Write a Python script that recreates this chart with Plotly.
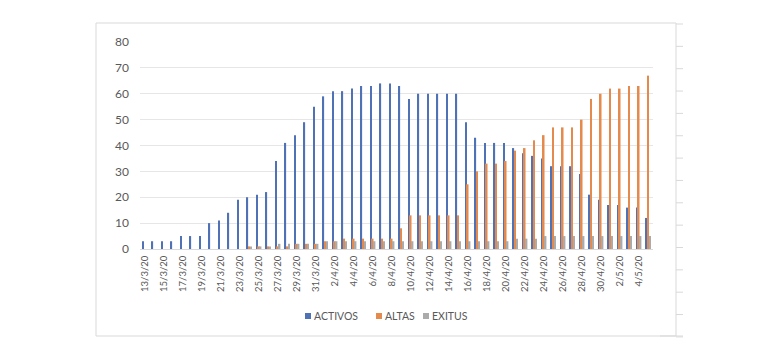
import plotly.graph_objects as go

fechas = [
    "13/3/20", "14/3/20", "15/3/20", "16/3/20", "17/3/20", "18/3/20", "19/3/20", "20/3/20",
    "21/3/20", "22/3/20", "23/3/20", "24/3/20", "25/3/20", "26/3/20", "27/3/20", "28/3/20",
    "29/3/20", "30/3/20", "31/3/20", "1/4/20", "2/4/20", "3/4/20", "4/4/20", "5/4/20",
    "6/4/20", "7/4/20", "8/4/20", "9/4/20", "10/4/20", "11/4/20", "12/4/20", "13/4/20",
    "14/4/20", "15/4/20", "16/4/20", "17/4/20", "18/4/20", "19/4/20", "20/4/20", "21/4/20",
    "22/4/20", "23/4/20", "24/4/20", "25/4/20", "26/4/20", "27/4/20", "28/4/20", "29/4/20",
    "30/4/20", "1/5/20", "2/5/20", "3/5/20", "4/5/20", "5/5/20",
]

activos = [3, 3, 3, 3, 5, 5, 5, 10, 11, 14,
           19, 20, 21, 22, 34, 41, 44, 49, 55, 59,
           61, 61, 62, 63, 63, 64, 64, 63, 58, 60,
           60, 60, 60, 60, 49, 43, 41, 41, 41, 39,
           37, 36, 35, 32, 32, 32, 29, 21, 19, 17,
           17, 16, 16, 12]

altas = [0, 0, 0, 0, 0, 0, 0, 0, 0, 0,
         0, 1, 1, 1, 1, 1, 2, 2, 2, 3,
         3, 4, 4, 4, 4, 4, 4, 8, 13, 13,
         13, 13, 13, 13, 25, 30, 33, 33, 34, 38,
         39, 42, 44, 47, 47, 47, 50, 58, 60, 62,
         62, 63, 63, 67]

exitus = [0, 0, 0, 0, 0, 0, 0, 0, 0, 0,
          0, 1, 1, 1, 2, 2, 2, 2, 2, 3,
          3, 3, 3, 3, 3, 3, 3, 3, 3, 3,
          3, 3, 3, 3, 3, 3, 3, 3, 3, 4,
          4, 4, 5, 5, 5, 5, 5, 5, 5, 5,
          5, 5, 5, 5]

y_ticks = [0, 10, 20, 30, 40, 50, 60, 70, 80]

series_names = ["ACTIVOS", "ALTAS", "EXITUS"]
series_colors = ["#4F71B5", "#E38A4C", "#ABABAB"]

W, H = 770, 353
ML, MR, MT, MB = 140, 117, 42, 104
PW, PH = W - ML - MR, H - MT - MB


def px(x):
    return (x - ML) / PW


def py(y):
    return (H - MB - y) / PH


fig = go.Figure()
for name, vals, col in zip(series_names, [activos, altas, exitus], series_colors):
    fig.add_bar(x=fechas, y=vals, name=name, marker_color=col, marker_line_width=0,
                showlegend=False)

frame = "#d9d9d9"
shapes = [
    dict(type="rect", xref="paper", yref="paper", x0=px(96), x1=px(676), y0=py(336), y1=py(23),
         line=dict(color=frame, width=1), layer="below"),
    dict(type="line", xref="paper", yref="paper", x0=px(660), x1=px(683), y0=py(336), y1=py(336),
         line=dict(color=frame, width=1)),
]
k = 0
while 24 + 22.35 * k <= 337:
    yy = 24 + 22.35 * k
    shapes.append(dict(type="line", xref="paper", yref="paper", x0=px(676), x1=px(683),
                       y0=py(yy), y1=py(yy), line=dict(color=frame, width=1)))
    k += 1

# legend (custom, compact like the original)
legend_sq_x = [305, 376, 423]
legend_y = 316
annotations = []
for name, col, sx in zip(series_names, series_colors, legend_sq_x):
    shapes.append(dict(type="rect", xref="paper", yref="paper", x0=px(sx), x1=px(sx + 6),
                       y0=py(legend_y + 3), y1=py(legend_y - 3), line=dict(width=0),
                       fillcolor=col))
    annotations.append(dict(xref="paper", yref="paper", x=px(sx + 7), y=py(legend_y),
                            xanchor="left", yanchor="middle", text=name, showarrow=False,
                            font=dict(size=10.5, color="#595959", family="Lato")))

fig.update_layout(
    width=W, height=H,
    margin=dict(l=ML, r=MR, t=MT, b=MB),
    paper_bgcolor="white", plot_bgcolor="white",
    font=dict(family="Lato", color="#595959", size=12),
    barmode="group", bargap=0.4, bargroupgap=0.2,
    showlegend=False,
    shapes=shapes,
    annotations=annotations,
    xaxis=dict(type="category", tickmode="array", tickvals=fechas[::2], ticktext=fechas[::2],
               tickangle=-90, tickfont=dict(size=9.5, color="#595959"), showgrid=False,
               showline=True, linecolor="#d9d9d9", linewidth=1, ticks="", ticklabelstandoff=2,
               range=[-0.5, len(fechas) - 0.5]),
    yaxis=dict(range=[0, 80], tickvals=y_ticks, showgrid=True, gridcolor="#e6e6e6", gridwidth=1,
               zeroline=False, showline=False, ticks="", tickfont=dict(size=12, color="#595959"),
               ticklabelstandoff=10),
)

fig.write_html("out.html")
